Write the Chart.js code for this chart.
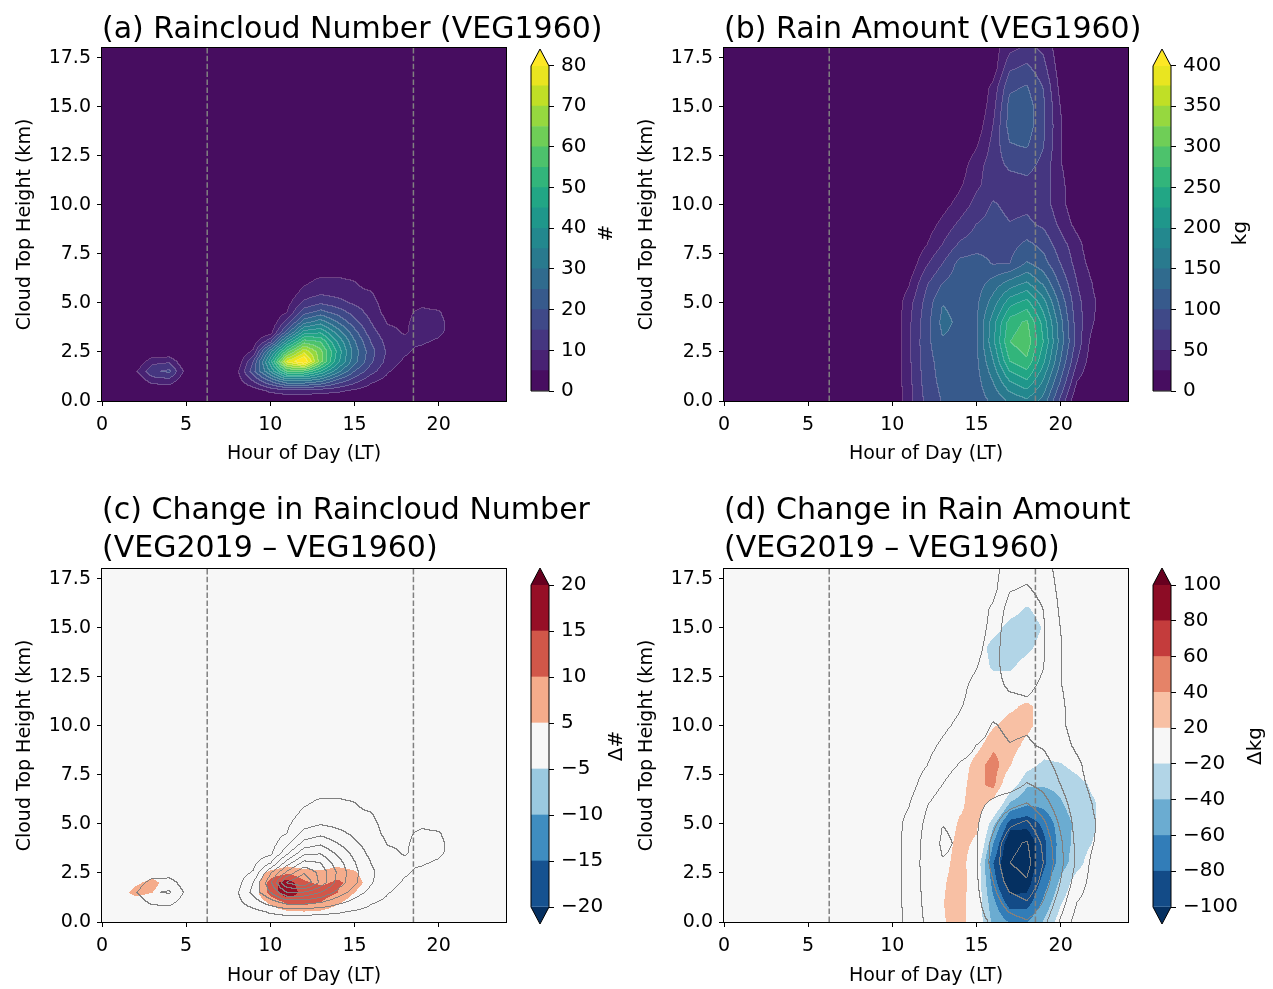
<!DOCTYPE html>
<html>
<head>
<meta charset="utf-8">
<script src="https://cdn.jsdelivr.net/npm/chart.js@4.4.1/dist/chart.umd.min.js"></script>
<style>
  body { margin: 0; background: #fff; width: 1273px; height: 989px; position: relative; overflow: hidden; }
  canvas { position: absolute; }
</style>
</head>
<body>
<canvas id="panelA" width="610" height="470" style="left:0;top:0"></canvas>
<canvas id="panelB" width="610" height="470" style="left:622px;top:0"></canvas>
<canvas id="panelC" width="610" height="531" style="left:0;top:461px"></canvas>
<canvas id="panelD" width="610" height="531" style="left:622px;top:461px"></canvas>
<canvas id="barA" width="140" height="380" style="left:520px;top:30px"></canvas>
<canvas id="barB" width="140" height="380" style="left:1142px;top:30px"></canvas>
<canvas id="barC" width="140" height="390" style="left:520px;top:550px"></canvas>
<canvas id="barD" width="140" height="390" style="left:1142px;top:550px"></canvas>
<script>
// grid axes
const hours = [0,1,2,3,4,5,6,7,8,9,10,11,12,13,14,15,16,17,18,19,20,21,22,23,24];
const heightsLow = [0,0.5,1,1.5,2,2.5,3,3.5,4,4.5,5,5.5,6,7,18];
const heightsFull = [0,1,2,3,4,5,6,7,8,9,10,11,12,13,14,15,16,17,18];

// (a) raincloud number, VEG1960 (rows = heightsLow, cols = hours)
const cloudNum1960 = [
  [0,0,0,0,0,0,0,0,0,0,0,0,0,0,0,0,0,0,0,0,0,0,0,0,0],
  [0,0,0,0,0,0,0,0,0,2,6,8,8,7,6,4,2,0,0,0,0,0,0,0,0],
  [0,0,0,7,8,0,0,0,2,10,20,30,30,26,18,12,6,3,0,0,0,0,0,0,0],
  [0,0,4,14,16,3,0,0,3,18,35,55,55,45,32,20,12,5.5,2,0,0,0,0,0,0],
  [0,0,0,8,9,0,0,0,0,15,42,76,86,62,42,27,16,8,4,1,0,0,0,0,0],
  [0,0,0,0,0,0,0,0,0,6,33,58,74,62,44,28,17,9,6,3,0,0,0,0,0],
  [0,0,0,0,0,0,0,0,0,2,14,40,58,55,40,26,15,8,6,6,4,0,0,0,0],
  [0,0,0,0,0,0,0,0,0,0,2,22,42,44,33,22,12,6.5,4.5,7,6.5,2,0,0,0],
  [0,0,0,0,0,0,0,0,0,0,0,12,28,33,25,17,10,4.5,4,7.5,7,2,0,0,0],
  [0,0,0,0,0,0,0,0,0,0,0,5,18,22,18,13,8,3,3,7,6,0,0,0,0],
  [0,0,0,0,0,0,0,0,0,0,0,3,11,14,12,9,7,2,0,3,1,0,0,0,0],
  [0,0,0,0,0,0,0,0,0,0,0,1,7,9,8,7,5.5,0,0,0,0,0,0,0,0],
  [0,0,0,0,0,0,0,0,0,0,0,0,4,7,7,5.5,2,0,0,0,0,0,0,0,0],
  [0,0,0,0,0,0,0,0,0,0,0,0,0,0,0,0,0,0,0,0,0,0,0,0,0],
  [0,0,0,0,0,0,0,0,0,0,0,0,0,0,0,0,0,0,0,0,0,0,0,0,0]
];

// (c) change in raincloud number, VEG2019 - VEG1960
const cloudNumDiff = [
  [0,0,0,0,0,0,0,0,0,0,0,0,0,0,0,0,0,0,0,0,0,0,0,0,0],
  [0,0,0,0,0,0,0,0,0,0,2,4,4.5,4,2,0,0,0,0,0,0,0,0,0,0],
  [0,0,2,1,0,0,0,0,0,1,6,11,12,10,6,2,0,0,0,0,0,0,0,0,0],
  [0,2,7,5,1,0,0,0,0,2,12,19,13,13,10,5,0,0,0,0,0,0,0,0,0],
  [0,0,4,7,2,0,0,0,0,2,12,18,11,9,11,8,2,0,0,0,0,0,0,0,0],
  [0,0,0,2,0,0,0,0,0,0,7,9,7,6,8,6,1,0,0,0,0,0,0,0,0],
  [0,0,0,0,0,0,0,0,0,0,0,3,2,2,3,2,0,0,0,0,0,0,0,0,0],
  [0,0,0,0,0,0,0,0,0,0,0,0,0,0,0,0,0,0,0,0,0,0,0,0,0],
  [0,0,0,0,0,0,0,0,0,0,0,0,0,0,0,0,0,0,0,0,0,0,0,0,0],
  [0,0,0,0,0,0,0,0,0,0,0,0,0,0,0,0,0,0,0,0,0,0,0,0,0],
  [0,0,0,0,0,0,0,0,0,0,0,0,0,0,0,0,0,0,0,0,0,0,0,0,0],
  [0,0,0,0,0,0,0,0,0,0,0,0,0,0,0,0,0,0,0,0,0,0,0,0,0],
  [0,0,0,0,0,0,0,0,0,0,0,0,0,0,0,0,0,0,0,0,0,0,0,0,0],
  [0,0,0,0,0,0,0,0,0,0,0,0,0,0,0,0,0,0,0,0,0,0,0,0,0],
  [0,0,0,0,0,0,0,0,0,0,0,0,0,0,0,0,0,0,0,0,0,0,0,0,0]
];

// (b) rain amount, VEG1960 (rows = heightsFull, cols = hours)
const rainAmt1960 = [
  [0,0,0,0,0,0,0,0,0,0,0,40,80,102,108,112,130,155,170,140,70,0,0,0,0],
  [0,0,0,0,0,0,0,0,0,0,0,42,85,108,112,115,150,200,222,172,100,25,0,0,0],
  [0,0,0,0,0,0,0,0,0,0,0,44,88,112,115,118,172,250,270,205,125,50,5,0,0],
  [0,0,0,0,0,0,0,0,0,0,0,45,90,122,118,120,192,275,292,225,140,65,10,0,0],
  [0,0,0,0,0,0,0,0,0,0,0,44,88,132,120,120,188,262,280,215,135,62,25,3,0],
  [0,0,0,0,0,0,0,0,0,0,0,40,82,124,118,118,162,215,235,185,118,58,28,5,0],
  [0,0,0,0,0,0,0,0,0,0,0,22,70,100,115,112,135,160,178,145,95,50,22,4,0],
  [0,0,0,0,0,0,0,0,0,0,0,5,45,75,108,112,98,100,128,110,75,40,12,0,0],
  [0,0,0,0,0,0,0,0,0,0,0,0,22,50,78,88,92,90,105,92,60,35,0,0,0],
  [0,0,0,0,0,0,0,0,0,0,0,0,10,32,55,75,85,76,80,70,45,15,0,0,0],
  [0,0,0,0,0,0,0,0,0,0,0,0,0,15,35,58,78,68,70,62,35,5,0,0,0],
  [0,0,0,0,0,0,0,0,0,0,0,0,0,0,20,45,62,62,66,60,35,0,0,0,0],
  [0,0,0,0,0,0,0,0,0,0,0,0,0,0,10,40,62,80,85,66,28,0,0,0,0],
  [0,0,0,0,0,0,0,0,0,0,0,0,0,0,0,22,58,98,102,76,28,0,0,0,0],
  [0,0,0,0,0,0,0,0,0,0,0,0,0,0,0,8,50,110,114,80,28,0,0,0,0],
  [0,0,0,0,0,0,0,0,0,0,0,0,0,0,0,0,40,110,114,80,25,0,0,0,0],
  [0,0,0,0,0,0,0,0,0,0,0,0,0,0,0,0,32,95,102,74,18,0,0,0,0],
  [0,0,0,0,0,0,0,0,0,0,0,0,0,0,0,0,8,70,80,58,12,0,0,0,0],
  [0,0,0,0,0,0,0,0,0,0,0,0,0,0,0,0,12,42,55,45,8,0,0,0,0]
];

// (d) change in rain amount, VEG2019 - VEG1960
const rainAmtDiff = [
  [0,0,0,0,0,0,0,0,0,0,0,0,0,17,34,-5,-45,-62,-60,-38,-10,0,0,0,0],
  [0,0,0,0,0,0,0,0,0,0,0,0,0,19,34,-4,-55,-90,-90,-55,-22,-2,0,0,0],
  [0,0,0,0,0,0,0,0,0,0,0,0,0,16,36,0,-70,-115,-110,-70,-35,-8,0,0,0],
  [0,0,0,0,0,0,0,0,0,0,0,0,0,9,34,-2,-80,-125,-118,-85,-50,-28,-5,0,0],
  [0,0,0,0,0,0,0,0,0,0,0,0,0,5,30,15,-60,-120,-115,-85,-52,-32,-18,0,0],
  [0,0,0,0,0,0,0,0,0,0,0,0,0,0,24,26,-35,-90,-95,-75,-50,-35,-22,-2,0],
  [0,0,0,0,0,0,0,0,0,0,0,0,0,0,14,35,10,-45,-58,-55,-42,-30,-22,-4,0],
  [0,0,0,0,0,0,0,0,0,0,0,0,0,0,10,34,46,-5,-38,-38,-35,-28,-15,0,0],
  [0,0,0,0,0,0,0,0,0,0,0,0,0,0,5,30,50,22,-12,-25,-22,-12,0,0,0],
  [0,0,0,0,0,0,0,0,0,0,0,0,0,0,0,12,35,33,12,-8,-5,0,0,0,0],
  [0,0,0,0,0,0,0,0,0,0,0,0,0,0,0,0,18,30,28,5,0,0,0,0,0],
  [0,0,0,0,0,0,0,0,0,0,0,0,0,0,0,0,2,15,25,10,0,0,0,0,0],
  [0,0,0,0,0,0,0,0,0,0,0,0,0,0,0,0,-5,-8,0,0,0,0,0,0,0],
  [0,0,0,0,0,0,0,0,0,0,0,0,0,0,0,-5,-24,-23,-12,-2,0,0,0,0,0],
  [0,0,0,0,0,0,0,0,0,0,0,0,0,0,0,-8,-28,-30,-25,-12,0,0,0,0,0],
  [0,0,0,0,0,0,0,0,0,0,0,0,0,0,0,0,-12,-28,-32,-18,0,0,0,0,0],
  [0,0,0,0,0,0,0,0,0,0,0,0,0,0,0,0,0,-10,-22,-10,0,0,0,0,0],
  [0,0,0,0,0,0,0,0,0,0,0,0,0,0,0,0,0,0,0,0,0,0,0,0,0],
  [0,0,0,0,0,0,0,0,0,0,0,0,0,0,0,0,0,0,0,0,0,0,0,0,0]
];

// contour levels
const numberLevels = [0,5,10,15,20,25,30,35,40,45,50,55,60,65,70,75,80];
const rainLevels = [0,25,50,75,100,125,150,175,200,225,250,275,300,325,350,375,400];
const numberDiffLevels = [-20,-15,-10,-5,5,10,15,20];
const rainDiffLevels = [-100,-80,-60,-40,-20,20,40,60,80,100];
const numberLineLevels = [5,15,25,35,45,55,65,75];
const rainLineLevels = [25,75,125,175,225,275];

const sunTimes = [6.25, 18.5];
const hourTicks = [0,5,10,15,20];
const heightTicks = [0,2.5,5,7.5,10,12.5,15,17.5];

const viridisBands = ['#470d60','#482273','#453680','#3f4988','#375a8c','#306b8e','#297a8e','#23888e',
  '#1f978b','#22a685','#32b57b','#4dc26c','#6fce57','#96d83f','#c0df26','#e9e520'];
const numberDiffColors = ['#165290','#3f8dc0','#9ac9e0','#f7f7f7','#f5ac8b','#d15749','#960f26'];
const rainDiffColors = ['#134b87','#327db8','#6bacd1','#b2d5e7','#f7f7f7','#f8c0a4','#e58368','#c43c3c','#8c0c25'];

const FONT = '"DejaVu Sans", sans-serif';
const tickFont = { family: FONT, size: 19 };
const cbarFont = { family: FONT, size: 20 };
const labelFont = { family: FONT, size: 19 };

function locate(arr, v) {
  const n = arr.length;
  if (v <= arr[0]) return [0, 0];
  if (v >= arr[n - 1]) return [n - 2, 1];
  let i = 0;
  while (arr[i + 1] < v) i++;
  return [i, (v - arr[i]) / (arr[i + 1] - arr[i])];
}

function bandIndex(levels, v) {
  if (v < levels[0]) return -1;
  for (let k = 1; k < levels.length; k++) {
    if (v < levels[k]) return k - 1;
  }
  return levels.length - 1;
}

function countBelow(levels, v) {
  let n = 0;
  for (const l of levels) if (v >= l) n++;
  return n;
}

function rgb(hex) {
  return [parseInt(hex.slice(1, 3), 16), parseInt(hex.slice(3, 5), 16), parseInt(hex.slice(5, 7), 16)];
}

const fmt = (v) => (v < 0 ? '\u2212' + Math.abs(v) : String(v));

// filled contour field, drawn pixel by pixel through the chart scales
function fieldPlugin(cfg) {
  return {
    id: 'field',
    beforeDatasetsDraw(chart) {
      const { ctx, chartArea: a, scales: { x, y } } = chart;
      const x0 = Math.round(a.left), y0 = Math.round(a.top);
      const w = Math.round(a.right) - x0, h = Math.round(a.bottom) - y0;
      const cols = [], rows = [];
      for (let i = 0; i < w; i++) cols.push(locate(hours, x.getValueForPixel(x0 + i + 0.5)));
      for (let j = 0; j < h; j++) rows.push(locate(cfg.heights, y.getValueForPixel(y0 + j + 0.5)));

      const sample = (g, j, i) => {
        const [r, fr] = rows[j];
        const [c, fc] = cols[i];
        const lo = g[r][c] * (1 - fc) + g[r][c + 1] * fc;
        const hi = g[r + 1][c] * (1 - fc) + g[r + 1][c + 1] * fc;
        return lo * (1 - fr) + hi * fr;
      };

      const fill = new Int16Array(w * h);
      const line = cfg.lineField ? new Int16Array(w * h) : null;
      for (let j = 0; j < h; j++) {
        for (let i = 0; i < w; i++) {
          fill[j * w + i] = bandIndex(cfg.levels, sample(cfg.field, j, i));
          if (line) line[j * w + i] = countBelow(cfg.lineLevels, sample(cfg.lineField, j, i));
        }
      }

      const pal = cfg.colors.map(rgb);
      const under = rgb(cfg.under || cfg.colors[0]);
      const over = rgb(cfg.over || cfg.colors[cfg.colors.length - 1]);
      const img = ctx.createImageData(w, h);
      for (let j = 0; j < h; j++) {
        for (let i = 0; i < w; i++) {
          const k = j * w + i;
          const b = fill[k];
          const c = b < 0 ? under : b >= pal.length ? over : pal[b];
          let r = c[0], g = c[1], bl = c[2];
          if (cfg.seams) {
            const edge = (i < w - 1 && b !== fill[k + 1]) || (j < h - 1 && b !== fill[k + w]);
            if (edge) {
              r += (255 - r) * 0.22; g += (255 - g) * 0.22; bl += (255 - bl) * 0.22;
            }
          }
          if (line) {
            const le = (i < w - 1 && line[k] !== line[k + 1]) || (j < h - 1 && line[k] !== line[k + w]);
            if (le) { r = 128; g = 128; bl = 128; }
          }
          img.data[k * 4] = r;
          img.data[k * 4 + 1] = g;
          img.data[k * 4 + 2] = bl;
          img.data[k * 4 + 3] = 255;
        }
      }
      const off = document.createElement('canvas');
      off.width = w;
      off.height = h;
      off.getContext('2d').putImageData(img, 0, 0);
      ctx.drawImage(off, x0, y0);
    }
  };
}

const framePlugin = {
  id: 'frame',
  afterDraw(chart) {
    const { ctx, chartArea: a } = chart;
    ctx.save();
    ctx.strokeStyle = '#000';
    ctx.lineWidth = 1;
    const l = Math.round(a.left), t = Math.round(a.top);
    ctx.strokeRect(l - 0.5, t - 0.5, Math.round(a.right) - l + 1, Math.round(a.bottom) - t + 1);
    ctx.restore();
  }
};

function titlePlugin(cfg) {
  return {
    id: 'panelTitle',
    afterDraw(chart) {
      const ctx = chart.ctx;
      ctx.save();
      ctx.font = '30px ' + FONT;
      ctx.fillStyle = '#000';
      ctx.textAlign = 'left';
      ctx.textBaseline = 'alphabetic';
      cfg.title.forEach((t, i) => ctx.fillText(t, chart.chartArea.left, cfg.titleY[i]));
      ctx.restore();
    }
  };
}

function makePanel(id, cfg) {
  new Chart(document.getElementById(id), {
    type: 'scatter',
    data: {
      datasets: sunTimes.map((t) => ({
        data: [{ x: t, y: 0 }, { x: t, y: 18 }],
        showLine: true,
        borderColor: '#808080',
        borderWidth: 1.5,
        borderDash: [5.5, 2.4],
        pointRadius: 0,
      })),
    },
    options: {
      responsive: false,
      animation: false,
      devicePixelRatio: 1,
      events: [],
      layout: { padding: { left: 0, right: 104, top: cfg.top, bottom: 0 } },
      plugins: { legend: { display: false }, tooltip: { enabled: false } },
      scales: {
        x: {
          type: 'linear',
          min: 0,
          max: 24,
          afterBuildTicks: (s) => { s.ticks = hourTicks.map((v) => ({ value: v })); },
          afterFit: (s) => { s.height = cfg.axisH; },
          ticks: { font: tickFont, color: '#000', padding: 8, maxRotation: 0, autoSkip: false },
          grid: { drawOnChartArea: false, tickLength: 5, tickColor: '#000' },
          border: { display: true, color: '#000' },
          title: { display: true, text: 'Hour of Day (LT)', font: labelFont, color: '#000', padding: { top: 0, bottom: 5 } },
        },
        y: {
          type: 'linear',
          min: 0,
          max: 18,
          afterBuildTicks: (s) => { s.ticks = heightTicks.map((v) => ({ value: v })); },
          afterFit: (s) => { s.width = 102; },
          ticks: { font: tickFont, color: '#000', padding: 6, autoSkip: false, callback: (v) => v.toFixed(1) },
          grid: { drawOnChartArea: false, tickLength: 5, tickColor: '#000' },
          border: { display: true, color: '#000' },
          title: { display: true, text: 'Cloud Top Height (km)', font: labelFont, color: '#000', padding: { top: 14, bottom: 0 } },
        },
      },
    },
    plugins: [fieldPlugin(cfg), framePlugin, titlePlugin(cfg)],
  });
}

function colorbarPlugin(cfg) {
  return {
    id: 'cbarExtras',
    afterDraw(chart) {
      const { ctx, chartArea: a } = chart;
      const L = Math.round(a.left), R = Math.round(a.right), T = Math.round(a.top), B = Math.round(a.bottom);
      const mid = (L + R) / 2, th = 17;
      ctx.save();
      if (cfg.over) {
        ctx.fillStyle = cfg.over;
        ctx.beginPath(); ctx.moveTo(L, T); ctx.lineTo(mid, T - th); ctx.lineTo(R, T); ctx.closePath(); ctx.fill();
      }
      if (cfg.under) {
        ctx.fillStyle = cfg.under;
        ctx.beginPath(); ctx.moveTo(L, B); ctx.lineTo(mid, B + th); ctx.lineTo(R, B); ctx.closePath(); ctx.fill();
      }
      ctx.strokeStyle = '#000';
      ctx.lineWidth = 1;
      ctx.beginPath();
      ctx.moveTo(L, B);
      if (cfg.under) ctx.lineTo(mid, B + th);
      ctx.lineTo(R, B);
      ctx.lineTo(R, T);
      if (cfg.over) ctx.lineTo(mid, T - th);
      ctx.lineTo(L, T);
      ctx.closePath();
      ctx.stroke();

      ctx.translate(cfg.labelX, cfg.labelY);
      ctx.rotate(-Math.PI / 2);
      ctx.font = '20px ' + FONT;
      ctx.fillStyle = '#000';
      ctx.textAlign = 'center';
      ctx.textBaseline = 'middle';
      ctx.fillText(cfg.label, 0, 0);
      ctx.restore();
    }
  };
}

function makeColorbar(id, cfg) {
  const canvas = document.getElementById(id);
  const nb = cfg.colors.length;
  new Chart(canvas, {
    type: 'bar',
    data: {
      labels: [''],
      datasets: cfg.colors.map((c) => ({
        data: [1],
        backgroundColor: c,
        borderWidth: 0,
        barPercentage: 1,
        categoryPercentage: 1,
      })),
    },
    options: {
      responsive: false,
      animation: false,
      devicePixelRatio: 1,
      events: [],
      layout: { padding: { left: 11, top: cfg.top, bottom: cfg.bottom, right: 0 } },
      plugins: { legend: { display: false }, tooltip: { enabled: false } },
      scales: {
        x: { display: false, stacked: true },
        y: {
          stacked: true,
          position: 'right',
          min: 0,
          max: nb,
          afterBuildTicks: (s) => {
            s.ticks = cfg.levels.map((_, k) => k).filter((k) => k % cfg.step === 0).map((k) => ({ value: k }));
          },
          afterFit: (s) => { s.width = canvas.width - 29; },
          ticks: { font: cbarFont, color: '#000', padding: 7, autoSkip: false, callback: (v) => fmt(cfg.levels[v]) },
          grid: { drawOnChartArea: false, tickLength: 5, tickColor: '#000' },
          border: { display: false },
        },
      },
    },
    plugins: [colorbarPlugin(cfg)],
  });
}

const topPanel = { top: 48, axisH: 69, titleY: [38] };
const bottomPanel = { top: 108, axisH: 70, titleY: [58, 96] };

makePanel('panelA', Object.assign({}, topPanel, {
  title: ['(a) Raincloud Number (VEG1960)'],
  field: cloudNum1960, heights: heightsLow, levels: numberLevels, colors: viridisBands, over: '#fde725', seams: true,
}));
makePanel('panelB', Object.assign({}, topPanel, {
  title: ['(b) Rain Amount (VEG1960)'],
  field: rainAmt1960, heights: heightsFull, levels: rainLevels, colors: viridisBands, over: '#fde725', seams: true,
}));
makePanel('panelC', Object.assign({}, bottomPanel, {
  title: ['(c) Change in Raincloud Number', '(VEG2019 \u2013 VEG1960)'],
  field: cloudNumDiff, heights: heightsLow, levels: numberDiffLevels, colors: numberDiffColors,
  under: '#053061', over: '#67001f', lineField: cloudNum1960, lineLevels: numberLineLevels,
}));
makePanel('panelD', Object.assign({}, bottomPanel, {
  title: ['(d) Change in Rain Amount', '(VEG2019 \u2013 VEG1960)'],
  field: rainAmtDiff, heights: heightsFull, levels: rainDiffLevels, colors: rainDiffColors,
  under: '#053061', over: '#67001f', lineField: rainAmt1960, lineLevels: rainLineLevels,
}));

makeColorbar('barA', { colors: viridisBands, levels: numberLevels, step: 2, over: '#fde725', top: 35.5, bottom: 9, label: '#', labelX: 87, labelY: 203 });
makeColorbar('barB', { colors: viridisBands, levels: rainLevels, step: 2, over: '#fde725', top: 35.5, bottom: 9, label: 'kg', labelX: 99, labelY: 203 });
makeColorbar('barC', { colors: numberDiffColors, levels: numberDiffLevels, step: 1, over: '#67001f', under: '#053061', top: 35, bottom: 33, label: '\u0394#', labelX: 97, labelY: 196 });
makeColorbar('barD', { colors: rainDiffColors, levels: rainDiffLevels, step: 1, over: '#67001f', under: '#053061', top: 35, bottom: 33, label: '\u0394kg', labelX: 114, labelY: 196 });
</script>
</body>
</html>
